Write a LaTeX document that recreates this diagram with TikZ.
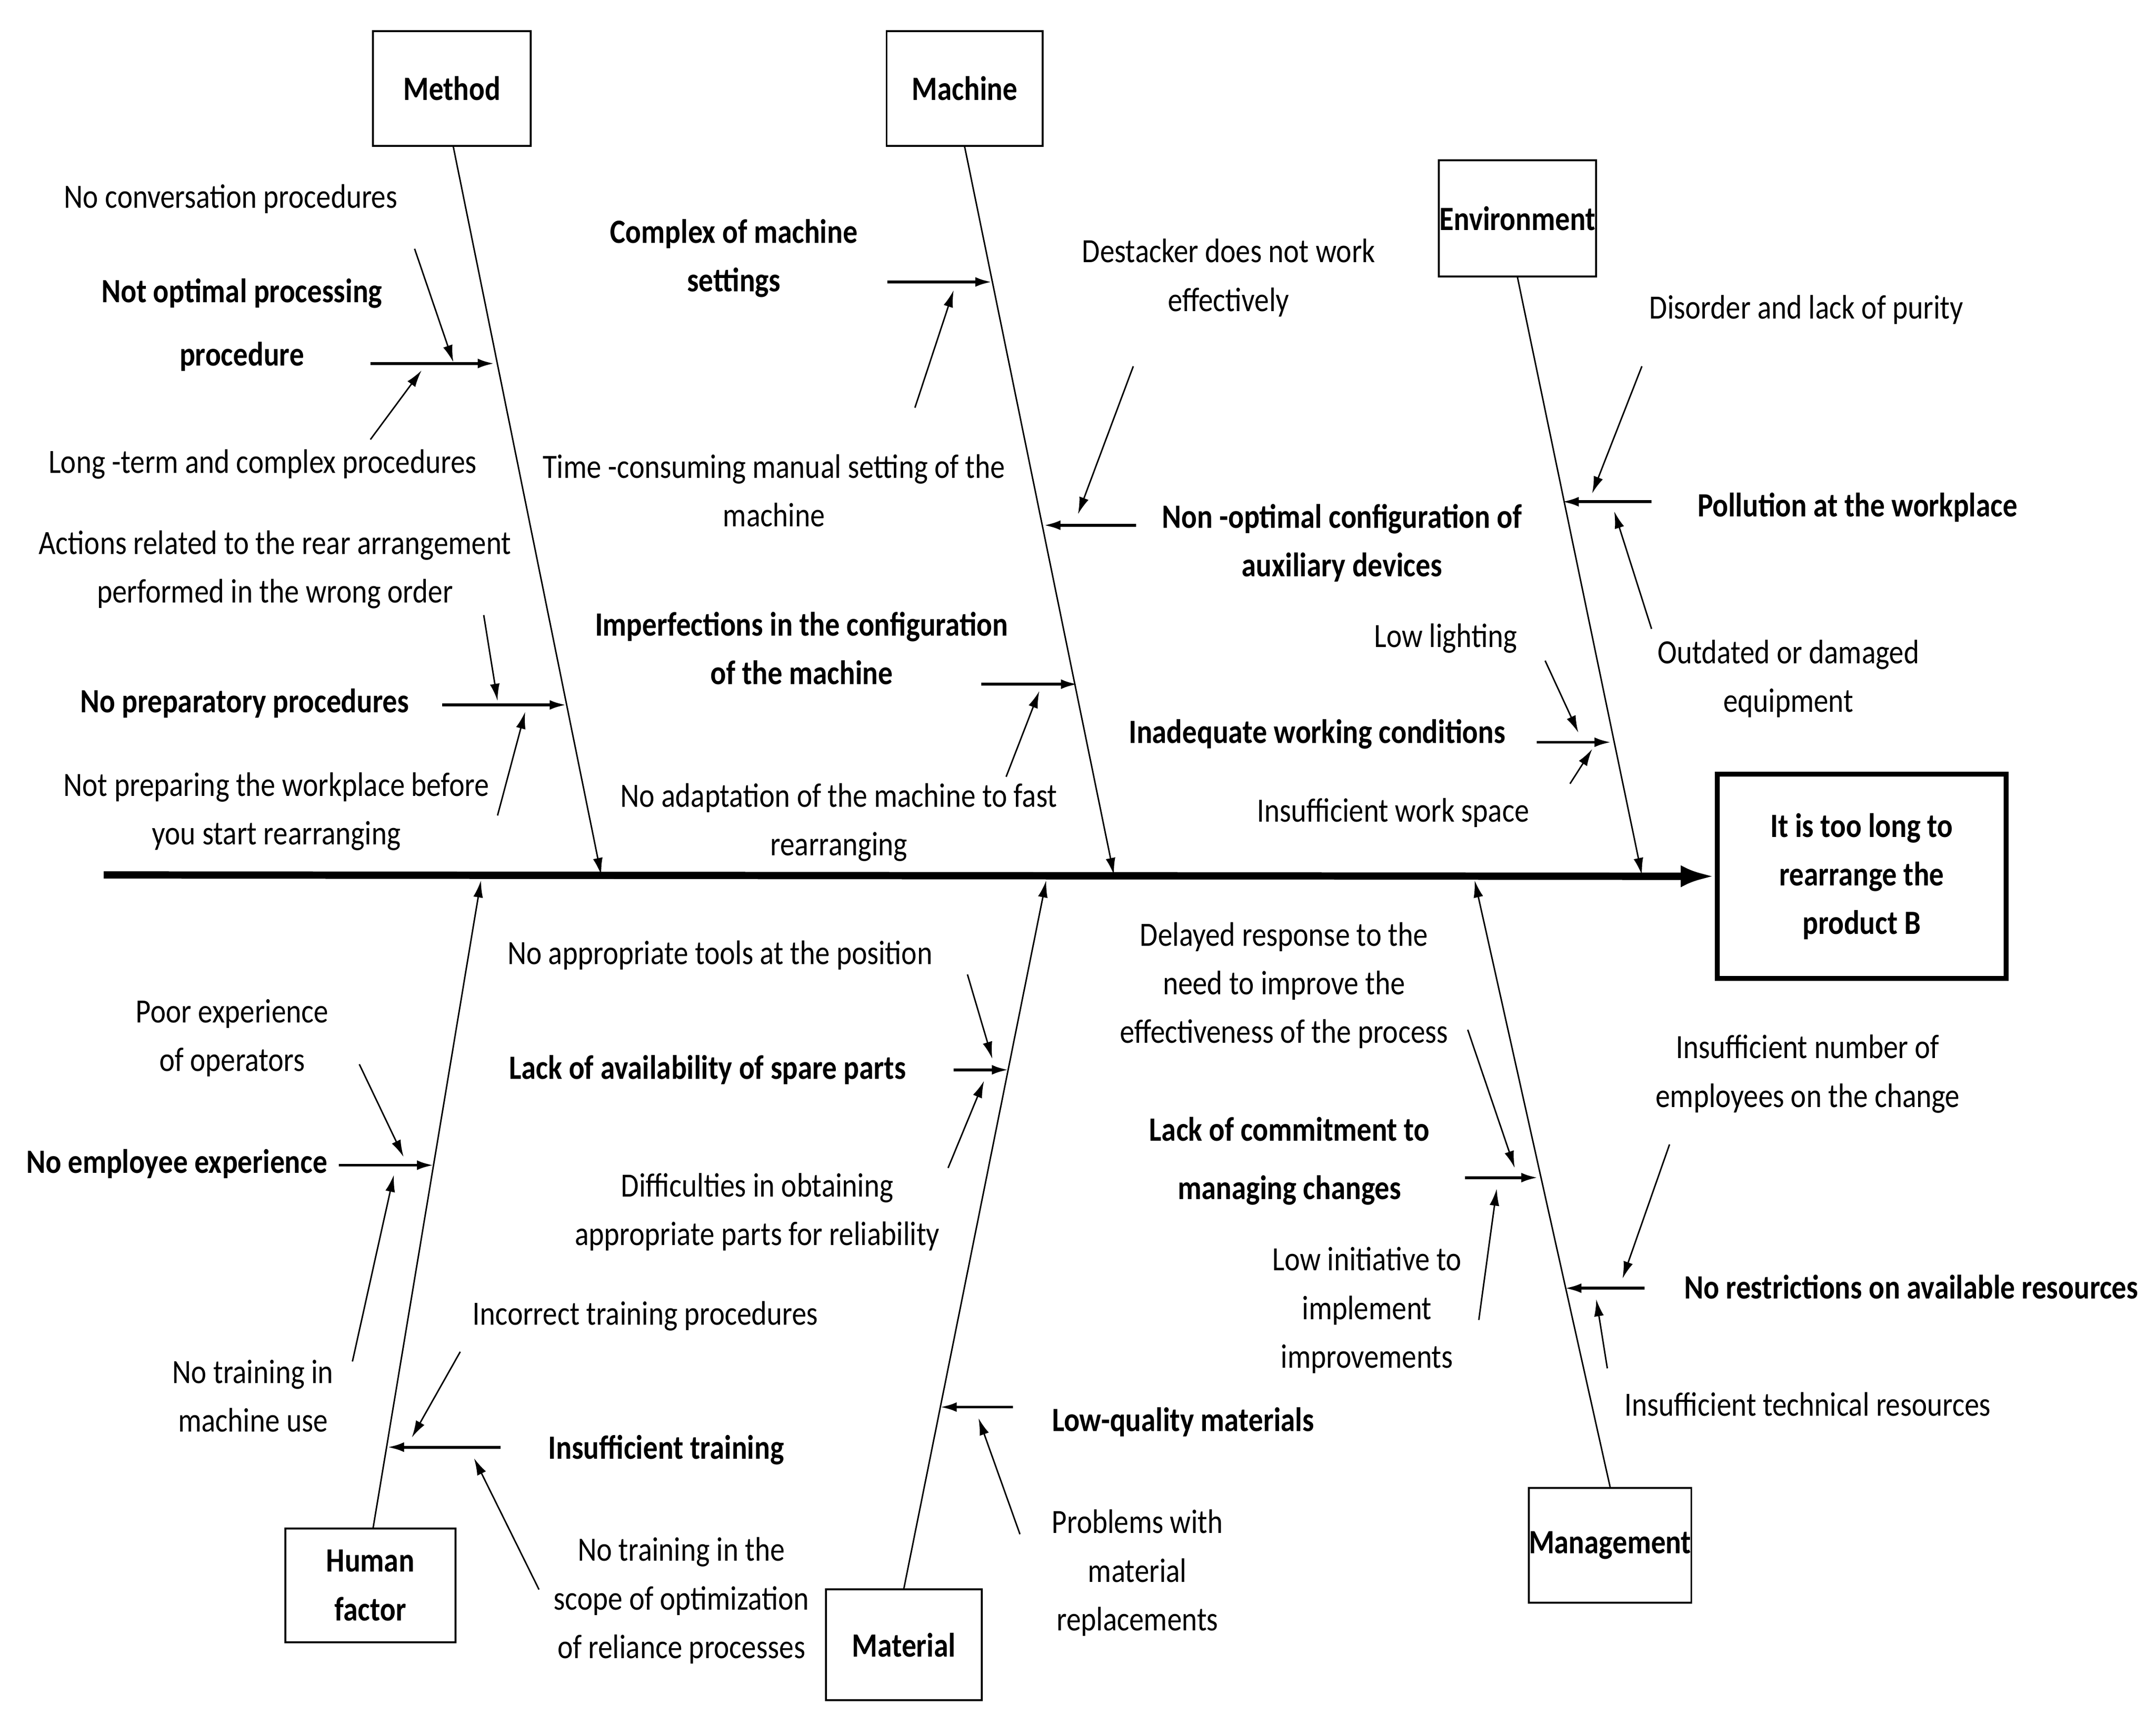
\documentclass[tikz,border=0pt]{standalone}
\usepackage{fontspec}
\setmainfont{Carlito}[FakeStretch=0.86]
\usetikzlibrary{arrows.meta}
\begin{document}
\begin{tikzpicture}[x=0.02cm,y=-0.02cm,
  every node/.style={font=\fontsize{14}{20}\selectfont,align=center,inner sep=0pt},
  lbl/.style={},
  blbl/.style={font=\fontsize{14}{20}\selectfont\bfseries},
  cat/.style={draw,thick,font=\fontsize{14}{20}\selectfont\bfseries},
  arr/.style={-{Latex[length=7pt,width=4pt]},line width=0.6pt},
  barr/.style={-{Latex[length=7pt,width=4pt]},line width=1.2pt}]
\useasboundingbox (0,0) rectangle (1560,1240);
% effect and spine
\node[draw,line width=2pt,minimum width=209*0.02cm,minimum height=148*0.02cm,blbl] (eff) at (1347,634) {It is too long to\\rearrange the\\product B};
\coordinate (sp0) at (75,633);
\draw[-{Latex[length=14pt,width=9pt]},line width=3pt] (sp0) -- (eff.west);
% categories
\node[cat,minimum width=114*0.02cm,minimum height=83*0.02cm] (met) at (327,64) {Method};
\node[cat,minimum width=113*0.02cm,minimum height=83*0.02cm] (mac) at (698,64) {Machine};
\node[cat,minimum width=114*0.02cm,minimum height=84*0.02cm] (env) at (1098,158) {Environment};
\node[cat,minimum width=123*0.02cm,minimum height=82*0.02cm] (hum) at (268,1147) {Human\\factor};
\node[cat,minimum width=113*0.02cm,minimum height=80*0.02cm] (mat) at (654,1190) {Material};
\node[cat,minimum width=113*0.02cm,minimum height=83*0.02cm] (man) at (1165,1118) {Management};
\coordinate (metE) at (435,633); \coordinate (macE) at (806,633); \coordinate (envE) at (1188,633);
\coordinate (humE) at (348,637); \coordinate (matE) at (757,637); \coordinate (manE) at (1067,637);
\draw[arr] (met.south) ++(1,0) coordinate (metS) -- (metE);
\draw[arr] (mac.south) -- (macE);
\draw[arr] (env.south) -- (envE);
\draw[arr] (hum.north) ++(2,0) coordinate (humS) -- (humE);
\draw[arr] (mat.north) -- (matE);
\draw[arr] (man.north) -- (manE);
% texts
\node[blbl] (t1) at (175,235) {Not optimal processing\\[6pt]procedure};
\node (t2) at (167,144) {No conversation procedures};
\node (t3) at (190,336) {Long -term and complex procedures};
\node[blbl] (t4) at (177,509) {No preparatory procedures};
\node (t5) at (199,412) {Actions related to the rear arrangement\\performed in the wrong order};
\node (t6) at (200,587) {Not preparing the workplace before\\you start rearranging};
\node[blbl] (t7) at (531,187) {Complex of machine\\settings};
\node (t8) at (560,355) {Time -consuming manual setting of the\\machine};
\node[blbl] (t9) at (580,469) {Imperfections in the configuration\\of the machine};
\node (t10) at (607,595) {No adaptation of the machine to fast\\rearranging};
\node[blbl] (t11) at (971,393) {Non -optimal configuration of\\auxiliary devices};
\node (t12) at (889,201) {Destacker does not work\\effectively};
\node[blbl] (t13) at (1344,367) {Pollution at the workplace};
\node (t14) at (1307,224) {Disorder and lack of purity};
\node (t15) at (1294,491) {Outdated or damaged\\equipment};
\node[blbl] (t16) at (953,531) {Inadequate working conditions};
\node (t17) at (1046,462) {Low lighting};
\node (t18) at (1008,588) {Insufficient work space};
\node[blbl] (t19) at (128,842) {No employee experience};
\node (t20) at (168,751) {Poor experience\\of operators};
\node (t21) at (183,1010) {No training in\\machine use};
\node[blbl] (t22) at (482,1049) {Insufficient training};
\node (t23) at (467,952) {Incorrect training procedures};
\node (t24) at (493,1158) {No training in the\\scope of optimization\\of reliance processes};
\node[blbl] (t25) at (512,774) {Lack of availability of spare parts};
\node (t26) at (521,691) {No appropriate tools at the position};
\node (t27) at (548,877) {Difficulties in obtaining\\appropriate parts for reliability};
\node[blbl] (t28) at (856,1029) {Low-quality materials};
\node (t29) at (823,1138) {Problems with\\material\\replacements};
\node[blbl] (t30) at (933,840) {Lack of commitment to\\[4pt]managing changes};
\node (t31) at (929,713) {Delayed response to the\\need to improve the\\effectiveness of the process};
\node (t32) at (989,948) {Low initiative to\\implement\\improvements};
\node[blbl] (t33) at (1383,931) {No restrictions on available resources};
\node (t34) at (1308,777) {Insufficient number of\\employees on the change};
\node (t35) at (1308,1016) {Insufficient technical resources};
% main sub-branch arrows: coordinates
\foreach \n/\a/\b/\c/\d in {
 m1/268/263/358/263, m2/320/510/410/510,
 c1/642/204/718/204, c2/710/495/780/495, c3/822/380/755/380,
 e1/1195/363/1130/363, e2/1112/537/1166/537,
 h1/245/843/314/843, h2/362/1047/280/1047,
 a1/690/774/730/774, a2/733/1018/680/1018,
 g1/1060/852/1113/852, g2/1190/932/1132/932}
 {\coordinate (\n s) at (\a,\b); \coordinate (\n e) at (\c,\d);}
\foreach \n in {m1,m2,c1,c2,c3,e1,e2,h1,h2,a1,a2,g1,g2}
 {\draw[barr] (\n s) -- (\n e);}
% secondary arrows
\foreach \n/\a/\b/\c/\d in {
 s1/300/180/328/262, s2/268/318/305/268, s3/350/445/360/507, s4/360/590/380/515,
 s5/662/295/690/210, s6/728/562/752/500, s7/820/265/780/372,
 s8/1188/265/1152/357, s9/1195/455/1168/370, s10/1118/478/1142/530, s11/1136/567/1152/542,
 s12/260/770/292/837, s13/255/985/285/850, s14/333/978/298/1040, s15/390/1150/343/1055,
 s16/700/705/718/766, s17/686/845/712/782, s18/738/1110/708/1026,
 s19/1062/745/1096/845, s20/1070/955/1083/860, s21/1208/828/1174/925, s22/1163/990/1155/940}
 {\coordinate (\n a) at (\a,\b); \coordinate (\n b) at (\c,\d); \draw[arr] (\n a) -- (\n b);}
\end{tikzpicture}
\end{document}
